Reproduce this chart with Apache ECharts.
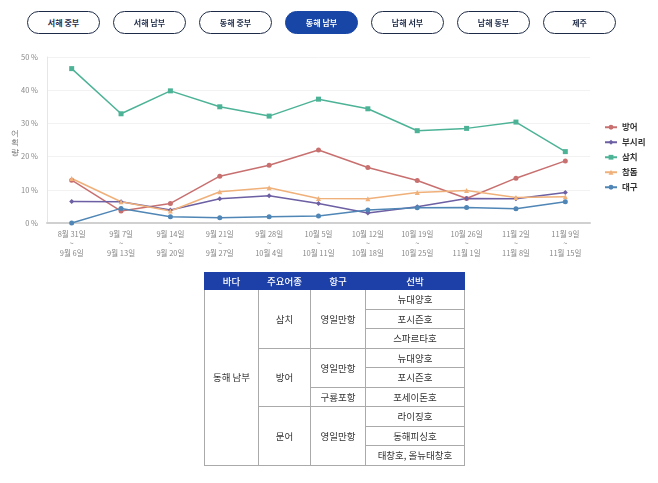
<!DOCTYPE html>
<html><head><meta charset="utf-8">
<script src="https://cdn.jsdelivr.net/npm/echarts@6/dist/echarts.min.js"></script>
<style>
html,body{margin:0;padding:0;background:#fff;}
#wrap{position:relative;width:658px;height:483px;overflow:hidden;font-family:"Noto Sans CJK KR","Noto Sans",sans-serif;}
#chart{position:absolute;left:0;top:0;width:658px;height:483px;}
.btn{position:absolute;top:11px;width:73px;height:23px;border:1.6px solid #1e2b48;border-radius:12px;box-sizing:border-box;background:#fff;color:#1e2b48;font-size:8px;font-weight:700;display:flex;align-items:center;justify-content:center;}
.btn.on{background:#1846a6;border-color:#1846a6;color:#fff;}
table{position:absolute;left:204px;top:272px;width:261px;border-collapse:collapse;font-size:9.5px;color:#333;}
td,th{border:1px solid #aaa;text-align:center;padding:0;height:18.5px;}
th{background:#1c3fa8;color:#fff;font-weight:500;height:16px;border-color:#1c3fa8;}
table{border:1.5px solid #666;}
</style></head>
<body><div id="wrap"><div id="chart"></div><div id="btns"></div><table id="tbl"></table></div>
<script>
const regions = ["서해 중부","서해 남부","동해 중부","동해 남부","남해 서부","남해 동부","제주"];
const activeRegion = "동해 남부";
const categories = ["8월 31일\n~\n9월 6일","9월 7일\n~\n9월 13일","9월 14일\n~\n9월 20일","9월 21일\n~\n9월 27일","9월 28일\n~\n10월 4일","10월 5일\n~\n10월 11일","10월 12일\n~\n10월 18일","10월 19일\n~\n10월 25일","10월 26일\n~\n11월 1일","11월 2일\n~\n11월 8일","11월 9일\n~\n11월 15일"];
const bangeo  = [12.9, 3.6, 5.9, 14.1, 17.4, 22.0, 16.7, 12.8, 7.4, 13.5, 18.7];
const busiri  = [6.5, 6.4, 3.9, 7.3, 8.2, 5.9, 3.0, 4.9, 7.4, 7.3, 9.2];
const samchi  = [46.5, 32.9, 39.8, 35.0, 32.2, 37.3, 34.4, 27.8, 28.5, 30.4, 21.5];
const chamdom = [13.4, 6.4, 3.6, 9.4, 10.6, 7.4, 7.3, 9.2, 9.8, 7.7, 7.9];
const daegu   = [0.0, 4.4, 1.9, 1.6, 1.9, 2.1, 3.9, 4.6, 4.7, 4.3, 6.4];
const yTicks = [0,10,20,30,40,50];
const tableHeader = ["바다","주요어종","항구","선박"];
const tableRows = [
  ["동해 남부","삼치","영일만항","뉴대양호"],
  [null,null,null,"포시즌호"],
  [null,null,null,"스파르타호"],
  [null,"방어","영일만항","뉴대양호"],
  [null,null,null,"포시즌호"],
  [null,null,"구룡포항","포세이돈호"],
  [null,"문어","영일만항","라이징호"],
  [null,null,null,"동해피싱호"],
  [null,null,null,"태창호, 올뉴태창호"]
];
const rowSpans = [[9,3,3,1],[0,0,0,1],[0,0,0,1],[0,3,2,1],[0,0,0,1],[0,0,1,1],[0,3,3,1],[0,0,0,1],[0,0,0,1]];

// buttons
const bw = document.getElementById('btns');
regions.forEach((r,i)=>{const d=document.createElement('div');d.className='btn'+(r===activeRegion?' on':'');d.style.left=(27+i*86)+'px';d.textContent=r;bw.appendChild(d);});
// table
const tb = document.getElementById('tbl');
let h='<tr>'+tableHeader.map(x=>'<th>'+x+'</th>').join('')+'</tr>';
tableRows.forEach((row,ri)=>{h+='<tr>';row.forEach((c,ci)=>{const s=rowSpans[ri][ci];if(s>0)h+='<td rowspan="'+s+'">'+c+'</td>';});h+='</tr>';});
tb.innerHTML=h;
const cols=[54,52,55,100];
tb.querySelectorAll('th').forEach((th,i)=>th.style.width=cols[i]+'px');

const chart = echarts.init(document.getElementById('chart'));
const font = '"Noto Sans CJK KR","Noto Sans",sans-serif';
function S(name, data, color, symbol){
  return {name, type:'line', data, symbol, symbolSize:5, showSymbol:true,
    lineStyle:{width:1.5,color}, itemStyle:{color}};
}
chart.setOption({
  animation:false,
  textStyle:{fontFamily:font},
  grid:{left:47,right:68,top:57,bottom:260,containLabel:false},
  legend:{orient:'vertical',left:599,top:118,itemGap:6.5,itemWidth:12,itemHeight:6,
    textStyle:{fontSize:8.5,color:'#333',fontWeight:'bold',fontFamily:font},
    data:['방어','부시리','삼치','참돔','대구']},
  xAxis:{type:'category',data:categories,boundaryGap:true,
    axisLine:{lineStyle:{color:'#d0d0d0',width:2}},axisTick:{show:false},
    axisLabel:{fontSize:7.5,color:'#888',lineHeight:9.5,margin:6,interval:0}},
  yAxis:{type:'value',min:0,max:50,interval:10,
    axisLine:{show:true,lineStyle:{color:'#e6e6e6'}},
    splitLine:{lineStyle:{color:'#f2f2f2'}},
    axisLabel:{fontSize:7.5,color:'#888',margin:9,formatter:v=>v+' %'}},
  graphic:[{type:'text',left:11,top:129,style:{text:'어\n획\n량',fontSize:8,fill:'#777',lineHeight:9.5,font:'8px '+font}}],
  series:[
    S('방어',bangeo,'#c8706f','circle'),
    S('부시리',busiri,'#6d5fa3','diamond'),
    S('삼치',samchi,'#4db397','rect'),
    S('참돔',chamdom,'#f0b07a','triangle'),
    S('대구',daegu,'#4f86b6','circle')
  ]
});
</script></body></html>
